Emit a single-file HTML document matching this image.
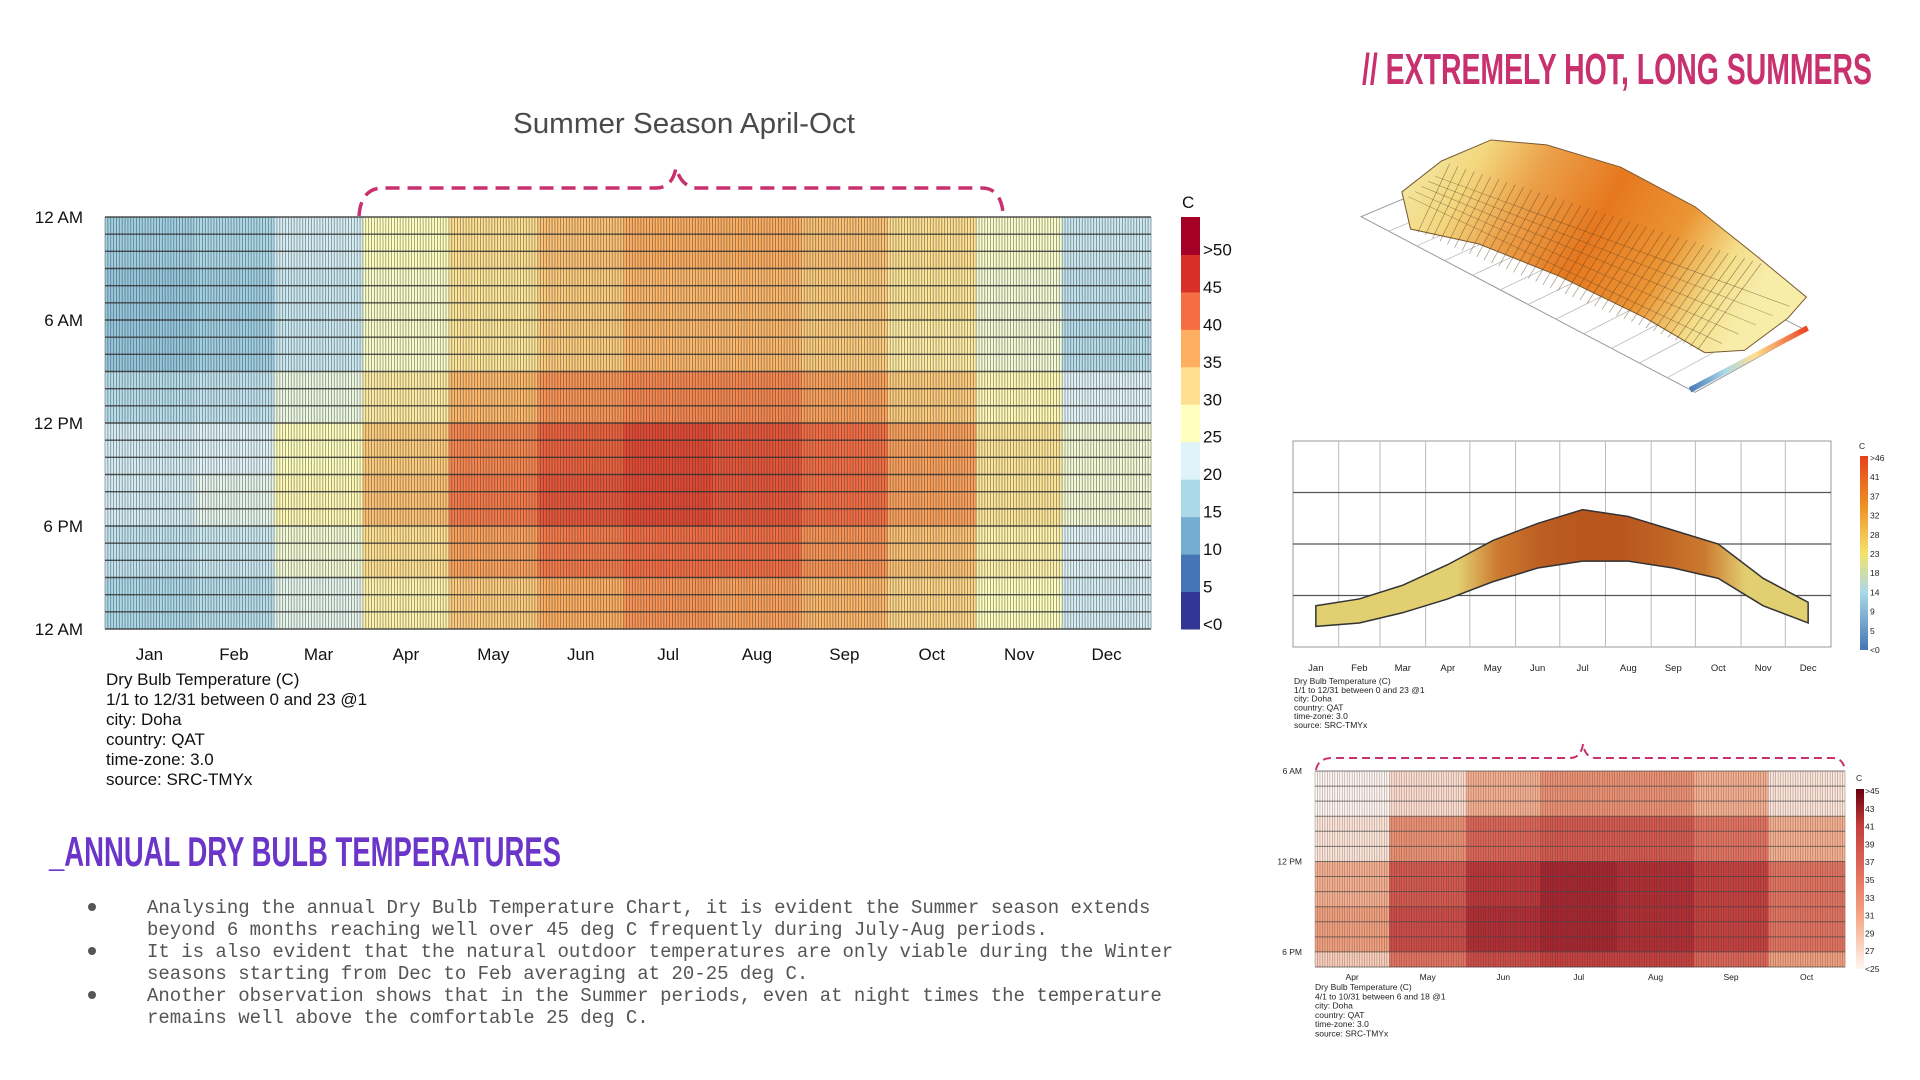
<!DOCTYPE html>
<html><head><meta charset="utf-8">
<style>
html,body{margin:0;padding:0;background:#fff;}
svg{display:block;font-family:"Liberation Sans",sans-serif;}
</style></head>
<body>
<svg id="root" width="1920" height="1080" viewBox="0 0 1920 1080">
  <text x="1362" y="84" font-size="44" font-weight="bold" fill="#c8306e" textLength="510" lengthAdjust="spacingAndGlyphs">// EXTREMELY HOT, LONG SUMMERS</text>
  <text x="684" y="133" font-size="29" fill="#4a4a4a" text-anchor="middle" textLength="342" lengthAdjust="spacingAndGlyphs">Summer Season April-Oct</text>
  <path d="M359,216 Q361,188 383,188 L656,188 Q672,188 676,168 Q682,188 698,188 L982,188 Q1000,188 1003,212" fill="none" stroke="#c8306e" stroke-width="3.5" stroke-dasharray="14 8"/>
  <g id="main"></g>
  <g id="mainLegend"></g>
  <g font-size="17" fill="#111">
    <text x="106" y="685">Dry Bulb Temperature (C)</text>
    <text x="106" y="705">1/1 to 12/31 between 0 and 23 @1</text>
    <text x="106" y="725">city: Doha</text>
    <text x="106" y="745">country: QAT</text>
    <text x="106" y="765">time-zone: 3.0</text>
    <text x="106" y="785">source: SRC-TMYx</text>
  </g>
  <text x="49" y="866" font-size="42" font-weight="bold" fill="#6a35c8" textLength="512" lengthAdjust="spacingAndGlyphs">_ANNUAL DRY BULB TEMPERATURES</text>
  <g font-family="'Liberation Mono',monospace" font-size="19" fill="#555">
    <circle cx="92" cy="907" r="4" fill="#555"/>
    <text x="147" y="913">Analysing the annual Dry Bulb Temperature Chart, it is evident the Summer season extends</text>
    <text x="147" y="935">beyond 6 months reaching well over 45 deg C frequently during July-Aug periods.</text>
    <circle cx="92" cy="951" r="4" fill="#555"/>
    <text x="147" y="957">It is also evident that the natural outdoor temperatures are only viable during the Winter</text>
    <text x="147" y="979">seasons starting from Dec to Feb averaging at 20-25 deg C.</text>
    <circle cx="92" cy="995" r="4" fill="#555"/>
    <text x="147" y="1001">Another observation shows that in the Summer periods, even at night times the temperature</text>
    <text x="147" y="1023">remains well above the comfortable 25 deg C.</text>
  </g>
  <g id="surf"></g>
  <g id="mid"></g>
  <g id="bot"></g>
</svg>
<script>
// ---- data ----
const months = ['Jan','Feb','Mar','Apr','May','Jun','Jul','Aug','Sep','Oct','Nov','Dec'];
const monthDays = [31,28,31,30,31,30,31,31,30,31,30,31];
const hourBlocks = [0,3,6,9,12,15,18,21];
const tJan = [14,13,13,16,19,19,17,15];
const tFeb = [15,14,14,17,20,21,18,16];
const tMar = [19,18,18,22,25,26,23,21];
const tApr = [25,24,24,28,32,33,30,27];
const tMay = [30,29,29,34,38,39,36,32];
const tJun = [33,32,32,37,41,42,39,35];
const tJul = [35,34,34,38,43,43,40,37];
const tAug = [35,34,34,38,42,42,40,36];
const tSep = [33,32,32,36,40,40,37,34];
const tOct = [30,29,28,32,36,36,33,31];
const tNov = [24,23,23,26,29,29,27,25];
const tDec = [18,17,16,20,23,23,20,19];
const bandMin = [11,12,15,19,24,28,30,30,28,25,17,12];
const bandMax = [17,19,23,29,36,41,45,43,39,35,25,18];
const hourTicks = ['12 AM','6 AM','12 PM','6 PM','12 AM'];
const legendLabels = ['<0','5','10','15','20','25','30','35','40','45','>50'];
const legendColors = ['#313695','#4575b4','#74add1','#abd9e9','#e0f3f8','#ffffbf','#fee090','#fdae61','#f46d43','#d73027','#a50026'];
const midLegendLabels = ['<0','5','9','14','18','23','28','32','37','41','>46'];
const botLegendLabels = ['<25','27','29','31','33','35','37','39','41','43','>45'];
const temps = [tJan,tFeb,tMar,tApr,tMay,tJun,tJul,tAug,tSep,tOct,tNov,tDec];

const NS='http://www.w3.org/2000/svg';
function mk(tag, attrs, parent){const e=document.createElementNS(NS,tag);for(const k in attrs)e.setAttribute(k,attrs[k]);parent.appendChild(e);return e;}
function hex(c){return [parseInt(c.slice(1,3),16),parseInt(c.slice(3,5),16),parseInt(c.slice(5,7),16)];}
function lerpC(a,b,t){const A=hex(a),B=hex(b);return 'rgb('+A.map((v,i)=>Math.round(v+(B[i]-v)*t)).join(',')+')';}
function rdyl(T){let p=T/5; p=Math.max(0,Math.min(10,p)); const i=Math.min(9,Math.floor(p)); return lerpC(legendColors[i],legendColors[i+1],p-i);}
const redStops=['#fff5f0','#fde0d2','#f4a582','#e06b5b','#c43c3c','#9b1b2a','#67000d'];
function reds(T){let p=(T-25)/23*6; p=Math.max(0,Math.min(6,p)); const i=Math.min(5,Math.floor(p)); return lerpC(redStops[i],redStops[i+1],p-i);}
function monthOfDay(d){let acc=0;for(let m=0;m<12;m++){acc+=monthDays[m];if(d<acc)return m;}return 11;}
function tempAt(m,h){return temps[m][Math.floor(h/3)];}
const cumDays=[];{let a=0;for(const d of monthDays){cumDays.push(a);a+=d;}}

// ---- main heatmap ----
const main=document.getElementById('main');
const X0=105,X1=1151,Y0=217,Y1=629;
const xDay=d=>X0+(X1-X0)*d/365;
const yHour=h=>Y0+(Y1-Y0)*h/24;
for(let d=0;d<365;d++){
  const m=monthOfDay(d);
  hourBlocks.forEach((hb,bi)=>{
    const r=mk('rect',{x:xDay(d),y:yHour(hb),width:xDay(d+1)-xDay(d)+0.3,height:yHour(hb+3)-yHour(hb)+0.3,fill:rdyl(temps[m][bi])},main);
    
    
  });
}
let vp='';for(let d=0;d<=365;d++){const x=xDay(d).toFixed(2);vp+=`M${x},${Y0}V${Y1}`;}
mk('path',{d:vp,stroke:'#333',"stroke-width":0.8,"stroke-opacity":0.55,fill:'none'},main);
let hp='';for(let h=0;h<=24;h++){hp+=`M${X0},${yHour(h).toFixed(2)}H${X1}`;}
mk('path',{d:hp,stroke:'#333',"stroke-width":1.4,"stroke-opacity":0.85,fill:'none'},main);
hourTicks.forEach((t,i)=>{const e=mk('text',{x:83,y:yHour(i*6)+6,"font-size":17,"text-anchor":"end",fill:'#111'},main);e.textContent=t;
  
  });
months.forEach((mn,i)=>{const e=mk('text',{x:xDay(cumDays[i]+monthDays[i]/2),y:660,"font-size":17,"text-anchor":"middle",fill:'#111'},main);e.textContent=mn;
  
  });
// legend
const lg=document.getElementById('mainLegend');
const LY0=217,LY1=629,bh=(LY1-LY0)/11;
{const c=mk('text',{x:1182,y:208,"font-size":17,fill:'#111'},lg);c.textContent='C';}
legendColors.forEach((c,i)=>{const y=LY1-(i+1)*bh;const r=mk('rect',{x:1181,y:y,width:19,height:bh+0.5,fill:c},lg);
  
  
  const t=mk('text',{x:1203,y:y+bh+1,"font-size":17,fill:'#111'},lg);t.textContent=legendLabels[i];});

// ---- 3D surface (decorative) ----
const surf=document.getElementById('surf');
const defs=mk('defs',{},surf);
const lgd=mk('linearGradient',{id:'sg',x1:0,y1:0,x2:1,y2:0.3},defs);
[['0','#f3ecae'],['0.2','#f3d77e'],['0.35','#eba14a'],['0.55','#e6781f'],['0.75','#eb9534'],['0.9','#f4de8a'],['1','#f7eca8']].forEach(s=>mk('stop',{offset:s[0],"stop-color":s[1]},lgd));
const sc=1.237;
const ox=-12, oy=-6;
const floorPts=[[1110,180],[1380,322],[1470,272],[1205,140]];
mk('polygon',{points:floorPts.map(p=>[p[0]*sc+ox,p[1]*sc+oy].join(',')).join(' '),fill:'#fff',stroke:'#999',"stroke-width":1},surf);
for(let i=1;i<12;i++){const t=i/12;const a=[1110+(1380-1110)*t,180+(322-180)*t],b=[1205+(1470-1205)*t,140+(272-140)*t];
  mk('line',{x1:a[0]*sc+ox,y1:a[1]*sc+oy,x2:b[0]*sc+ox,y2:b[1]*sc+oy,stroke:'#bbb',"stroke-width":0.8},surf);}
const surfPts=[[1143,160],[1175,135],[1215,118],[1260,122],[1320,140],[1380,172],[1430,212],[1470,245],[1455,262],[1420,288],[1388,290],[1340,262],[1270,228],[1205,202],[1150,190]];
mk('polygon',{points:surfPts.map(p=>[p[0]*sc+ox,p[1]*sc+oy].join(',')).join(' '),fill:'url(#sg)',stroke:'#7a5a30',"stroke-width":1},surf);
for(let i=1;i<40;i++){const t=i/40;mk('line',{x1:(1150+(1388-1150)*t)*sc+ox,y1:(190+(290-190)*t)*sc+oy,x2:(1175+(1440-1175)*t)*sc+ox,y2:(135+(220-135)*t)*sc+oy,stroke:'#5a4020',"stroke-width":0.7,"stroke-opacity":0.55},surf);}
for(let j=1;j<6;j++){const t=j/6;mk('line',{x1:(1143+(1175-1143)*t)*sc+ox,y1:(160+(135-160)*t)*sc+oy+10,x2:(1388+(1470-1388)*t)*sc+ox,y2:(290+(245-290)*t)*sc+oy,stroke:'#5a4020',"stroke-width":0.6,"stroke-opacity":0.5},surf);}
const cbg=mk('linearGradient',{id:'cbg',x1:0,y1:0,x2:1,y2:0},defs);
[['0','#4575b4'],['0.3','#abd9e9'],['0.55','#fee090'],['1','#e8401c']].forEach(s=>mk('stop',{offset:s[0],"stop-color":s[1]},cbg));
mk('polygon',{points:`${1375*sc+ox},${318*sc+oy} ${1470*sc+ox},${268*sc+oy} ${1472*sc+ox},${272*sc+oy} ${1377*sc+ox},${322*sc+oy}`,fill:'url(#cbg)'},surf);

// ---- middle band chart ----
const mid=document.getElementById('mid');
const MX0=1293,MX1=1831,MY0=441,MY1=647,TMIN=5,TMAX=65;
const mx=d=>MX0+(MX1-MX0)*d/365;
const my=T=>MY1-(MY1-MY0)*(T-TMIN)/(TMAX-TMIN);
mk('rect',{x:MX0,y:MY0,width:MX1-MX0,height:MY1-MY0,fill:'#fff',stroke:'#999',"stroke-width":1},mid);
for(let i=1;i<12;i++)mk('line',{x1:mx(cumDays[i]),y1:MY0,x2:mx(cumDays[i]),y2:MY1,stroke:'#bbb',"stroke-width":1},mid);
for(let q=1;q<4;q++)mk('line',{x1:MX0,y1:MY0+(MY1-MY0)*q/4,x2:MX1,y2:MY0+(MY1-MY0)*q/4,stroke:'#555',"stroke-width":1.2},mid);
const bandGrad=mk('linearGradient',{id:'bandg',x1:0,y1:0,x2:1,y2:0},defs);
months.forEach((m,i)=>{const avg=(bandMin[i]+bandMax[i])/2;mk('stop',{offset:((cumDays[i]+monthDays[i]/2)/365).toFixed(3),"stop-color":avg>26?lerpC('#d9923a','#b8561e',Math.min(1,(avg-26)/10)):'#e2cf72'},bandGrad);});
const bandTop=months.map((m,i)=>[mx(cumDays[i]+monthDays[i]/2),my(bandMax[i])]);
const bandBot=months.map((m,i)=>[mx(cumDays[i]+monthDays[i]/2),my(bandMin[i])]).reverse();
const band=mk('polygon',{points:bandTop.concat(bandBot).map(p=>p.join(',')).join(' '),fill:'url(#bandg)',stroke:'#333',"stroke-width":1.5},mid);


months.forEach((mn,i)=>{const t=mk('text',{x:mx(cumDays[i]+monthDays[i]/2),y:671,"font-size":9.5,"text-anchor":"middle",fill:'#222'},mid);t.textContent=mn;});
['Dry Bulb Temperature (C)','1/1 to 12/31 between 0 and 23 @1','city: Doha','country: QAT','time-zone: 3.0','source: SRC-TMYx'].forEach((s,i)=>{const t=mk('text',{x:1294,y:684+i*8.8,"font-size":8.5,fill:'#222'},mid);t.textContent=s;});
const mg=mk('linearGradient',{id:'mlg',x1:0,y1:1,x2:0,y2:0},defs);
[['0','#4575b4'],['0.3','#abd9e9'],['0.5','#f4e36a'],['0.75','#ee8f22'],['1','#e8401c']].forEach(s=>mk('stop',{offset:s[0],"stop-color":s[1]},mg));
mk('rect',{x:1860,y:456,width:8,height:194,fill:'url(#mlg)'},mid);
{const c=mk('text',{x:1859,y:449,"font-size":8.5,fill:'#222'},mid);c.textContent='C';}
midLegendLabels.forEach((l,i)=>{const t=mk('text',{x:1870,y:653-i*19.2,"font-size":8.5,fill:'#222'},mid);t.textContent=l;});

// ---- bottom summer heatmap ----
const bt=document.getElementById('bot');
const BX0=1315,BX1=1845,BY0=771,BY1=967,D0=cumDays[3],D1=cumDays[10];
const bx=d=>BX0+(BX1-BX0)*(d-D0)/(D1-D0);
const by=h=>BY0+(BY1-BY0)*(h-6)/13;
for(let d=D0;d<D1;d++){const m=monthOfDay(d);
  for(let h=6;h<19;h++){const r=mk('rect',{x:bx(d),y:by(h),width:bx(d+1)-bx(d)+0.3,height:by(h+1)-by(h)+0.3,fill:reds(tempAt(m,h))},bt);
    
    }}
let bvp='';for(let d=D0;d<=D1;d++){bvp+=`M${bx(d).toFixed(2)},${BY0}V${BY1}`;}
mk('path',{d:bvp,stroke:'#333',"stroke-width":0.6,"stroke-opacity":0.45,fill:'none'},bt);
let bhp='';for(let h=6;h<=19;h++){bhp+=`M${BX0},${by(h).toFixed(2)}H${BX1}`;}
mk('path',{d:bhp,stroke:'#444',"stroke-width":1,"stroke-opacity":0.7,fill:'none'},bt);
[['6 AM',6],['12 PM',12],['6 PM',18]].forEach(a=>{const t=mk('text',{x:1302,y:by(a[1])+3,"font-size":8.5,"text-anchor":"end",fill:'#222'},bt);t.textContent=a[0];});
months.slice(3,10).forEach((mn,j)=>{const i=j+3;const t=mk('text',{x:bx(cumDays[i]+monthDays[i]/2),y:980,"font-size":8.5,"text-anchor":"middle",fill:'#222'},bt);t.textContent=mn;});
['Dry Bulb Temperature (C)','4/1 to 10/31 between 6 and 18 @1','city: Doha','country: QAT','time-zone: 3.0','source: SRC-TMYx'].forEach((s,i)=>{const t=mk('text',{x:1315,y:990+i*9.3,"font-size":8.5,fill:'#222'},bt);t.textContent=s;});
const rg=mk('linearGradient',{id:'rlg',x1:0,y1:1,x2:0,y2:0},defs);
[['0','#fff5f0'],['0.3','#f4a582'],['0.55','#e06b5b'],['0.8','#c43c3c'],['1','#67000d']].forEach(s=>mk('stop',{offset:s[0],"stop-color":s[1]},rg));
mk('rect',{x:1856,y:789,width:8,height:180,fill:'url(#rlg)'},bt);
{const c=mk('text',{x:1856,y:781,"font-size":8.5,fill:'#222'},bt);c.textContent='C';}
botLegendLabels.forEach((l,i)=>{const t=mk('text',{x:1865,y:972-i*17.8,"font-size":8.5,fill:'#222'},bt);t.textContent=l;});
mk('path',{d:'M1316,770 Q1318,758 1333,758 L1570,758 Q1581,758 1583,744 Q1585,758 1596,758 L1833,758 Q1843,758 1845,770',fill:'none',stroke:'#c8306e',"stroke-width":2,"stroke-dasharray":"8 5"},bt);
</script>
</body></html>
